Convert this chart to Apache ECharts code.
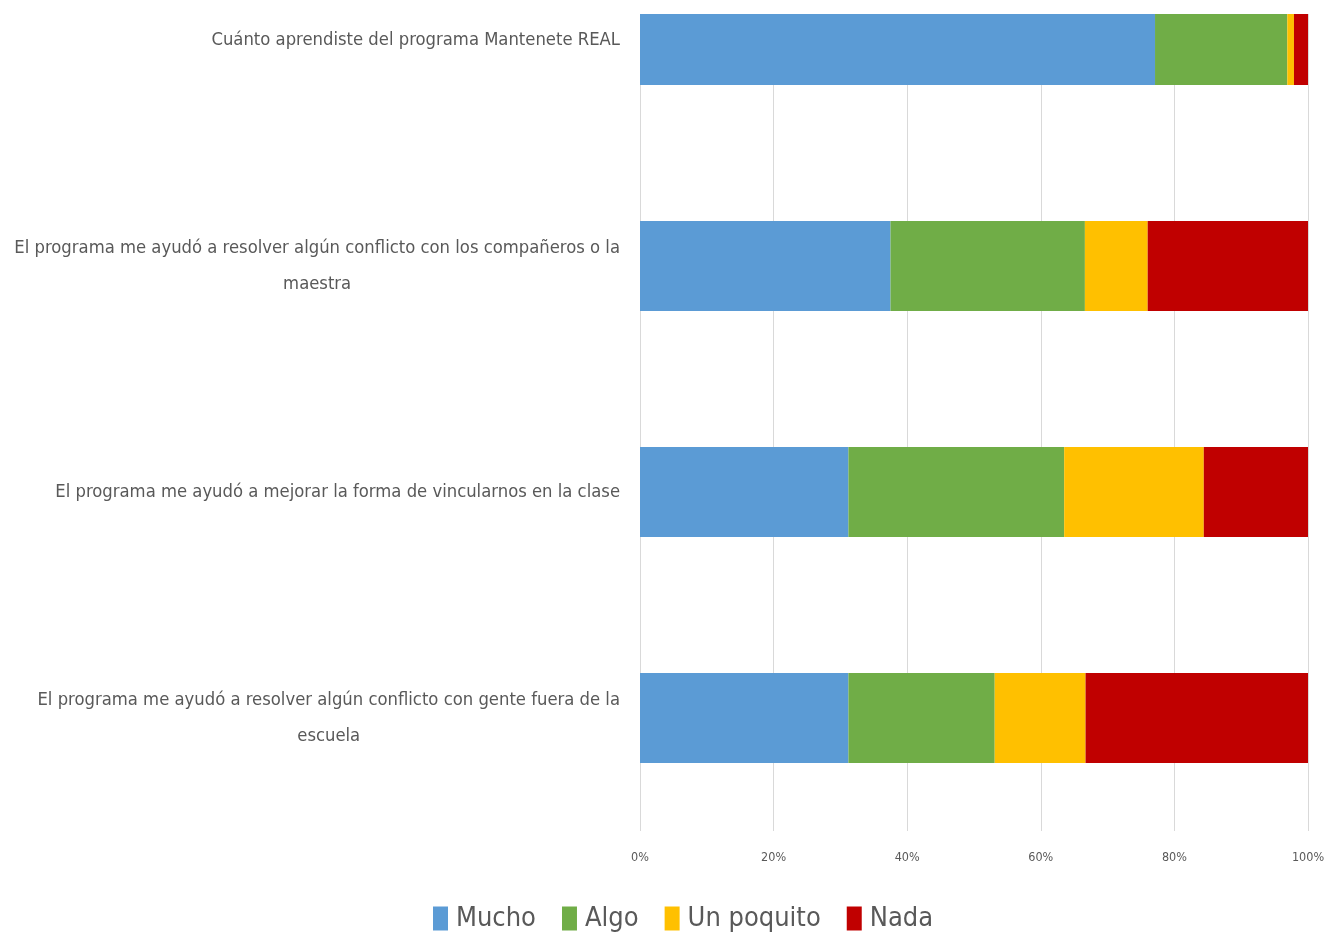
<!DOCTYPE html>
<html><head><meta charset="utf-8">
<script src="https://cdn.jsdelivr.net/npm/echarts@6/dist/echarts.min.js"></script>
<style>html,body{margin:0;padding:0;background:#fff}#c{width:1326px;height:937px}</style>
</head><body><div id="c"></div>
<script>
const categories = [
  "Cuánto aprendiste del programa Mantenete REAL",
  "El programa me ayudó a resolver algún conflicto con los compañeros o la\nmaestra",
  "El programa me ayudó a mejorar la forma de vincularnos en la clase",
  "El programa me ayudó a resolver algún conflicto con gente fuera de la\nescuela"
];
const seriesNames = ["Mucho", "Algo", "Un poquito", "Nada"];
const mucho = [77.1, 37.5, 31.2, 31.2];
const algo = [19.8, 29.1, 32.3, 21.9];
const unPoquito = [1.0, 9.4, 20.9, 13.6];
const nada = [2.1, 24.0, 15.6, 33.3];
const tickValues = [0, 20, 40, 60, 80, 100];
const colors = ["#5B9BD5", "#70AD47", "#FFC000", "#C00000"];
const FONT = "'Liberation Sans Narrow', 'DejaVu Sans Condensed', sans-serif";

const chart = echarts.init(document.getElementById('c'));
const data = [mucho, algo, unPoquito, nada];
chart.setOption({
  animation: false,
  color: colors,
  grid: { left: 640, right: 18, top: -73, bottom: 106, containLabel: false, outerBoundsMode: 'none' },
  legend: {
    bottom: 0, left: 428,
    icon: 'rect', itemWidth: 15, itemHeight: 24, itemGap: 26,
    textStyle: { fontFamily: FONT, fontSize: 27, color: '#595959', padding: [0, 0, 0, 3] },
    data: seriesNames
  },
  xAxis: {
    type: 'value', min: tickValues[0], max: tickValues[tickValues.length - 1], interval: 20,
    axisLine: { show: false }, axisTick: { show: false },
    splitLine: { show: true, lineStyle: { color: '#d9d9d9', width: 1 } },
    axisLabel: { formatter: '{value}%', fontFamily: FONT, fontSize: 12.5, color: '#595959', margin: 20 }
  },
  yAxis: {
    type: 'category', inverse: true, data: categories,
    axisLine: { show: false }, axisTick: { show: false },
    axisLabel: {
      margin: 20, color: '#595959', fontFamily: FONT, fontSize: 18.3, lineHeight: 36,
      formatter: v => '{c|' + v + '}',
      rich: { c: { align: 'center', fontFamily: FONT, fontSize: 18.3, lineHeight: 36, color: '#595959' } }
    }
  },
  series: seriesNames.map((n, i) => ({
    name: n, type: 'bar', stack: 'total', barWidth: 90,
    data: data[i], itemStyle: { color: colors[i] }
  })),
  graphic: [{ type: 'rect', shape: { x: 630, y: 0, width: 696, height: 14 }, style: { fill: '#fff' }, z: 100 }]
});
</script></body></html>
